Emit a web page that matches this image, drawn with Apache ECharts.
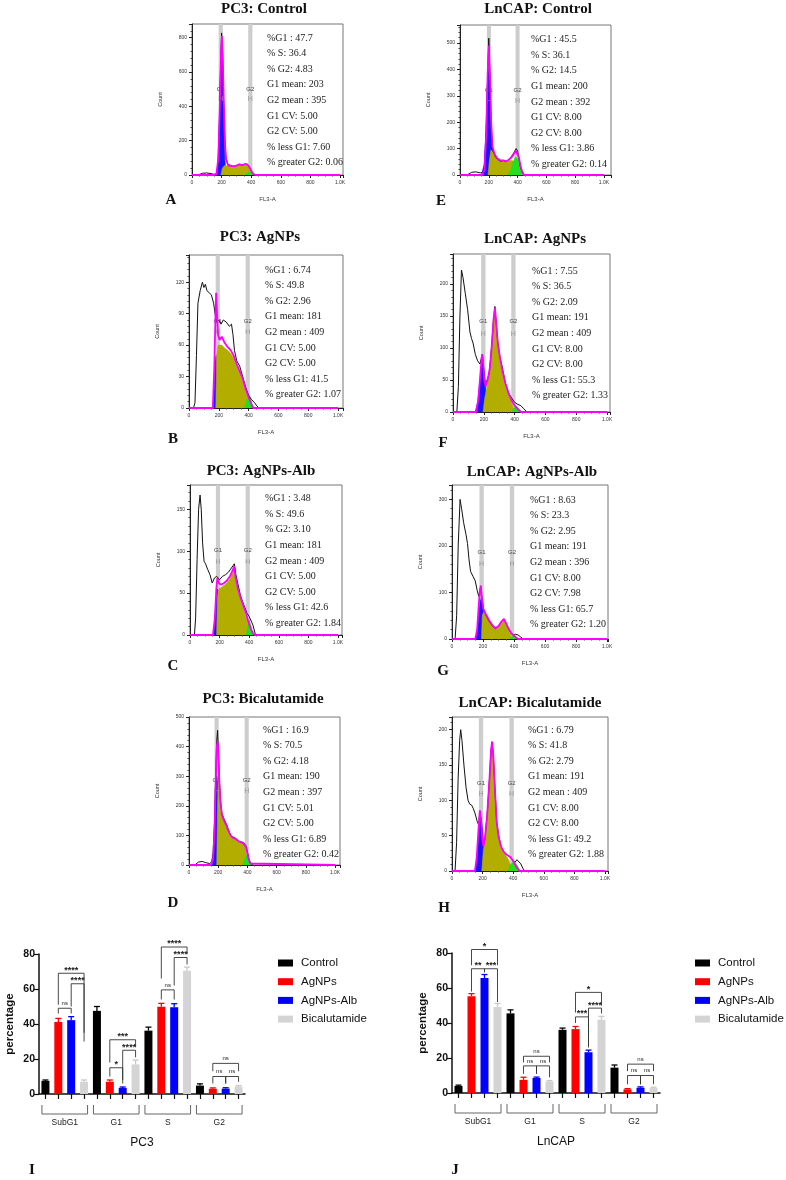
<!DOCTYPE html>
<html>
<head>
<meta charset="utf-8">
<script src="https://cdn.jsdelivr.net/npm/echarts@6/dist/echarts.min.js"></script>
<style>
html, body { margin: 0; padding: 0; background: #fff; }
#chart { width: 786px; height: 1180px; }
</style>
</head>
<body>
<div id="chart"></div>
<script>
// ---- flow histograms: [FL3-A, count] ----
// A  PC3 control
const aTotal = [[0,0],[40,0],[55,5],[70,10],[100,12],[130,8],[150,4],[165,8],[175,60],[185,300],[192,600],[200,828],[207,700],[213,450],[220,250],[228,110],[240,65],[260,55],[280,50],[300,55],[320,62],[340,58],[360,65],[375,62],[385,50],[395,35],[405,15],[415,3],[430,0]]
const aFit = [[0,0],[150,0],[165,5],[178,100],[188,400],[196,700],[202,810],[208,680],[215,420],[222,200],[230,90],[245,55],[260,54],[280,50],[300,55],[320,62],[340,58],[360,64],[375,60],[388,45],[400,25],[415,5],[430,0],[1000,0]]
const aG1 = [[170,0],[180,110],[190,480],[200,780],[210,480],[220,110],[230,0]]
const aS = [[195,0],[205,40],[220,55],[250,52],[280,50],[300,55],[320,62],[340,58],[360,62],[380,50],[395,25],[405,0]]
const aG2 = [[355,0],[375,10],[390,22],[400,25],[410,15],[420,3],[430,0]]
const aGates = [194, 394]
const aStats = ['%G1 : 47.7', '% S: 36.4', '% G2: 4.83', 'G1 mean: 203', 'G2 mean : 395', 'G1 CV: 5.00', 'G2 CV: 5.00', '% less G1: 7.60', '% greater G2: 0.06']

// E  LnCAP control
const eTotal = [[0,0],[50,0],[60,5],[80,10],[110,12],[140,8],[160,10],[170,30],[180,120],[190,330],[200,518],[206,400],[212,250],[220,130],[230,90],[245,70],[260,60],[280,52],[300,55],[320,50],[340,60],[360,72],[375,85],[390,100],[400,90],[410,60],[420,30],[432,10],[445,0]]
const eFit = [[0,0],[155,0],[170,20],[182,150],[192,380],[200,490],[208,380],[215,220],[225,110],[240,80],[260,62],[280,55],[300,55],[320,52],[340,58],[360,68],[375,80],[388,92],[398,90],[410,65],[420,35],[432,12],[445,0],[1000,0]]
const eG1 = [[150,0],[168,40],[180,160],[190,330],[200,440],[210,330],[220,160],[232,40],[250,0]]
const eS = [[195,0],[205,60],[215,95],[230,85],[250,65],[270,55],[300,52],[320,50],[340,55],[360,55],[380,50],[395,35],[405,15],[415,0]]
const eG2 = [[330,0],[350,15],[370,50],[385,70],[395,75],[410,55],[425,25],[440,5],[450,0]]
const eGates = [201, 400]
const eStats = ['%G1 : 45.5', '% S: 36.1', '% G2: 14.5', 'G1 mean: 200', 'G2 mean : 392', 'G1 CV: 8.00', 'G2 CV: 8.00', '% less G1: 3.86', '% greater G2: 0.14']

// B  PC3 AgNPs
const bTotal = [[0,0],[30,0],[40,5],[50,50],[60,100],[75,112],[90,120],[100,115],[110,118],[120,112],[135,110],[150,108],[165,100],[175,90],[185,82],[200,84],[215,80],[230,84],[250,82],[270,78],[285,80],[295,70],[305,55],[320,45],[340,40],[360,30],[380,20],[400,12],[420,8],[440,5],[455,2],[470,0]]
const bFit = [[0,0],[160,0],[170,40],[178,90],[182,110],[188,90],[195,70],[205,65],[220,68],[240,62],[260,58],[280,55],[300,50],[320,42],[340,35],[360,28],[380,18],[400,10],[415,5],[430,0],[1000,0]]
const bG1 = [[160,0],[170,20],[178,45],[182,50],[188,40],[195,15],[205,0]]
const bS = [[180,0],[185,50],[195,60],[220,60],[240,57],[260,55],[280,52],[300,48],[320,40],[340,33],[360,25],[380,15],[395,8],[405,0]]
const bG2 = [[370,0],[390,8],[405,12],[415,8],[425,3],[435,0]]
const bGates = [193, 394]
const bStats = ['%G1 : 6.74', '% S: 49.8', '% G2: 2.96', 'G1 mean: 181', 'G2 mean : 409', 'G1 CV: 5.00', 'G2 CV: 5.00', '% less G1: 41.5', '% greater G2: 1.07']

// F  LnCAP AgNPs
const fTotal = [[0,0],[25,0],[35,40],[45,150],[55,222],[65,210],[80,185],[95,160],[110,125],[120,115],[130,108],[145,90],[160,80],[175,75],[185,85],[192,90],[200,65],[210,42],[220,45],[235,60],[250,100],[262,140],[272,165],[280,140],[290,110],[305,85],[320,70],[340,45],[360,30],[380,22],[400,15],[420,12],[440,10],[460,5],[480,0]]
const fFit = [[0,0],[150,0],[165,20],[178,60],[188,90],[195,80],[203,50],[212,40],[225,50],[240,70],[252,105],[263,145],[272,163],[282,135],[292,105],[305,85],[320,65],[340,45],[360,30],[380,18],[400,10],[420,5],[440,0],[1000,0]]
const fG1 = [[145,0],[160,15],[175,50],[185,75],[191,80],[200,65],[210,40],[225,10],[240,0]]
const fS = [[195,0],[205,20],[220,40],[240,65],[252,100],[263,140],[272,158],[282,130],[292,100],[305,80],[320,60],[340,42],[360,28],[375,18],[390,8],[400,0]]
const fG2 = [[380,0],[395,6],[410,9],[425,6],[440,2],[450,0]]
const fGates = [197, 392]
const fStats = ['%G1 : 7.55', '% S: 36.5', '% G2: 2.09', 'G1 mean: 191', 'G2 mean : 409', 'G1 CV: 8.00', 'G2 CV: 8.00', '% less G1: 55.3', '% greater G2: 1.33']

// C  PC3 AgNPs-Alb
const cTotal = [[0,0],[30,0],[38,20],[48,90],[58,150],[68,167],[76,150],[85,110],[95,88],[105,85],[120,78],[135,72],[150,62],[165,68],[180,70],[200,66],[220,70],[240,72],[260,75],[280,80],[300,85],[310,72],[325,60],[340,48],[355,40],[370,33],[385,26],[400,22],[412,22],[425,12],[440,2],[450,0]]
const cFit = [[0,0],[155,0],[168,20],[178,55],[185,68],[195,62],[210,60],[230,62],[250,65],[270,70],[290,78],[298,82],[305,72],[320,58],[340,45],[360,35],[380,25],[395,15],[410,8],[425,2],[440,0],[1000,0]]
const cG1 = [[160,0],[170,25],[180,50],[185,55],[192,40],[200,15],[210,0]]
const cS = [[180,0],[185,45],[195,55],[220,58],[250,62],[270,67],[290,75],[298,78],[305,68],[320,55],[340,42],[360,32],[380,20],[395,8],[405,0]]
const cG2 = [[380,0],[392,12],[400,18],[410,12],[420,4],[430,0]]
const cGates = [189, 390]
const cStats = ['%G1 : 3.48', '% S: 49.6', '% G2: 3.10', 'G1 mean: 181', 'G2 mean : 409', 'G1 CV: 5.00', 'G2 CV: 5.00', '% less G1: 42.6', '% greater G2: 1.84']

// G  LnCAP AgNPs-Alb
const gTotal = [[0,0],[20,0],[30,50],[40,200],[52,300],[62,280],[75,250],[90,225],[100,205],[110,170],[120,145],[135,135],[150,125],[162,105],[172,92],[180,105],[186,112],[195,80],[205,62],[220,50],[240,38],[260,28],[280,22],[300,28],[320,38],[335,42],[350,32],[365,22],[380,12],[395,8],[410,10],[425,9],[440,5],[455,1],[465,0]]
const gFit = [[0,0],[150,0],[162,20],[172,70],[180,105],[186,115],[193,85],[202,65],[220,52],[240,40],[260,30],[280,23],[300,28],[320,38],[335,43],[350,33],[365,22],[380,14],[395,8],[410,4],[425,0],[1000,0]]
const gG1 = [[150,0],[162,15],[172,50],[182,80],[191,90],[200,70],[210,40],[225,10],[240,0]]
const gS = [[190,0],[195,50],[205,60],[220,50],[240,38],[260,28],[280,21],[300,26],[320,36],[335,40],[350,30],[365,18],[380,8],[390,0]]
const gG2 = [[370,0],[385,5],[398,8],[410,6],[425,2],[435,0]]
const gGates = [191, 387]
const gStats = ['%G1 : 8.63', '% S: 23.3', '% G2: 2.95', 'G1 mean: 191', 'G2 mean : 396', 'G1 CV: 8.00', 'G2 CV: 7.98', '% less G1: 65.7', '% greater G2: 1.20']

// D  PC3 Bicalutamide
const dTotal = [[0,0],[40,0],[50,5],[65,10],[90,12],[115,8],[140,5],[155,10],[165,40],[175,150],[183,300],[190,420],[196,455],[202,380],[208,290],[215,220],[225,175],[240,155],[255,140],[270,120],[285,100],[300,95],[320,90],[340,80],[360,78],[375,75],[390,65],[400,45],[410,20],[420,8],[435,0]]
const dFit = [[0,0],[150,0],[165,20],[175,120],[183,280],[190,400],[196,418],[202,370],[208,280],[215,215],[225,170],[240,150],[255,135],[270,115],[285,100],[300,92],[320,88],[340,80],[360,76],[375,72],[390,60],[400,40],[410,18],[420,5],[430,0],[1000,0]]
const dG1 = [[160,0],[170,40],[180,180],[190,300],[200,250],[210,100],[220,20],[230,0]]
const dS = [[190,0],[195,200],[202,310],[210,250],[220,170],[240,148],[255,133],[270,113],[285,97],[300,90],[320,86],[340,78],[360,74],[375,70],[385,55],[395,30],[405,0]]
const dG2 = [[370,0],[385,25],[397,35],[408,25],[420,8],[430,0]]
const dGates = [189, 395]
const dStats = ['%G1 : 16.9', '% S: 70.5', '% G2: 4.18', 'G1 mean: 190', 'G2 mean : 397', 'G1 CV: 5.01', 'G2 CV: 5.00', '% less G1: 6.89', '% greater G2: 0.42']

// H  LnCAP Bicalutamide
const hTotal = [[0,0],[20,0],[30,40],[40,130],[50,185],[57,200],[65,185],[78,150],[92,118],[105,100],[115,95],[129,93],[140,88],[150,82],[165,70],[175,65],[182,85],[190,72],[198,45],[205,35],[215,45],[230,80],[245,130],[255,170],[262,183],[270,165],[280,120],[292,70],[305,50],[320,35],[336,28],[350,25],[365,22],[380,20],[395,16],[410,12],[425,16],[435,17],[450,10],[465,3],[477,0]]
const hFit = [[0,0],[150,0],[162,20],[172,55],[182,86],[190,72],[198,45],[205,35],[215,45],[230,80],[245,130],[255,170],[262,183],[270,165],[280,120],[292,70],[305,48],[320,35],[336,28],[350,24],[365,22],[380,20],[395,16],[410,10],[425,5],[440,0],[1000,0]]
const hG1 = [[150,0],[162,15],[172,45],[182,70],[191,75],[200,55],[210,30],[225,8],[240,0]]
const hS = [[195,0],[205,30],[215,42],[230,75],[245,125],[255,165],[262,178],[270,160],[280,115],[292,65],[305,45],[320,32],[336,26],[350,22],[365,18],[380,10],[390,0]]
const hG2 = [[365,0],[380,8],[395,12],[410,13],[425,8],[440,2],[450,0]]
const hGates = [190, 390]
const hStats = ['%G1 : 6.79', '% S: 41.8', '% G2: 2.79', 'G1 mean: 191', 'G2 mean : 409', 'G1 CV: 8.00', 'G2 CV: 8.00', '% less G1: 49.2', '% greater G2: 1.88']

// ---- bar charts (percentage per phase) ----
const phases = ['SubG1', 'G1', 'S', 'G2']
const treatments = ['Control', 'AgNPs', 'AgNPs-Alb', 'Bicalutamide']
const treatmentColors = ['#000000', '#ff0000', '#0000ff', '#d4d4d4']

const pc3Control = [7.5, 47.5, 36.2, 4.8]
const pc3AgNPs = [41.2, 7.0, 49.8, 3.0]
const pc3AgNPsAlb = [42.2, 3.5, 49.6, 3.1]
const pc3Bicalutamide = [7.0, 16.9, 70.5, 4.2]
const pc3ControlErr = [0.5, 2.5, 2.0, 1.0]
const pc3AgNPsErr = [2.0, 1.0, 2.0, 0.5]
const pc3AgNPsAlbErr = [2.0, 0.5, 2.0, 0.5]
const pc3BicalutamideErr = [1.0, 2.5, 2.0, 0.6]

const lncapControl = [4.0, 45.5, 36.1, 14.5]
const lncapAgNPs = [55.3, 7.5, 36.5, 2.1]
const lncapAgNPsAlb = [65.7, 8.6, 23.3, 3.0]
const lncapBicalutamide = [49.2, 6.6, 41.8, 2.8]
const lncapControlErr = [0.5, 2.0, 1.0, 1.5]
const lncapAgNPsErr = [1.5, 1.5, 1.5, 0.4]
const lncapAgNPsAlbErr = [2.0, 0.5, 1.2, 0.5]
const lncapBicalutamideErr = [2.0, 0.5, 2.0, 0.5]

// significance brackets: [fromBar, toBar, top, left leg end, right leg end]
const pc3Brackets = [[1,2,49,46,46],[2,3,63,50,35],[1,3,69,51,30],[5,6,15,10,6],[6,7,25,8,21],[5,7,31,18,27],[9,10,59.5,54,54],[10,11,78,62,74],[9,11,84,66,80],[13,14,10,6,6],[14,15,10,6,7],[13,15,17.5,13,13]]
const pc3Marks = ['ns','****','****','*','****','***','ns','****','****','ns','ns','ns']
const lncapBrackets = [[1,2,71,58,69],[2,3,71,69,52],[1,3,82,73,73],[5,6,15.5,11,11],[6,7,15.5,11,9],[5,7,21,17.5,17.5],[9,10,43.5,40,26],[10,11,48.5,27,45.5],[9,11,57.5,46,50],[13,14,10,5,5],[14,15,10,5,5],[13,15,16.5,12.5,12.5]]
const lncapMarks = ['**','***','*','ns','ns','ns','***','****','*','ns','ns','ns']

const SERIF = '"Liberation Serif", "Times New Roman", serif'
const SANS = '"Liberation Sans", Arial, sans-serif'

const panels = [
  { title: 'PC3: Control', letter: 'A', total: aTotal, fit: aFit, g1: aG1, s: aS, g2: aG2, gates: aGates, stats: aStats,
    box: [192, 24, 151, 151], xMax: 1020, yMax: 880, yStep: 200, gateY: [500, 440], titleAt: [264, 9], statsAt: [267, 38], letterAt: [171, 200] },
  { title: 'LnCAP: Control', letter: 'E', total: eTotal, fit: eFit, g1: eG1, s: eS, g2: eG2, gates: eGates, stats: eStats,
    box: [460, 25, 151, 150], xMax: 1049, yMax: 568, yStep: 100, gateY: [322, 280], titleAt: [538, 9], statsAt: [531, 39.5], letterAt: [441, 201] },
  { title: 'PC3: AgNPs', letter: 'B', total: bTotal, fit: bFit, g1: bG1, s: bS, g2: bG2, gates: bGates, stats: bStats,
    box: [189, 255, 154, 153], xMax: 1033, yMax: 146, yStep: 30, gateY: [83, 72], titleAt: [260, 237], statsAt: [265, 270], letterAt: [173, 439] },
  { title: 'LnCAP: AgNPs', letter: 'F', total: fTotal, fit: fFit, g1: fG1, s: fS, g2: fG2, gates: fGates, stats: fStats,
    box: [453, 254, 157, 158], xMax: 1019, yMax: 247, yStep: 50, gateY: [141, 122], titleAt: [535, 239], statsAt: [532, 271], letterAt: [443, 443] },
  { title: 'PC3: AgNPs-Alb', letter: 'C', total: cTotal, fit: cFit, g1: cG1, s: cS, g2: cG2, gates: cGates, stats: cStats,
    box: [190, 485, 152, 150], xMax: 1027, yMax: 179, yStep: 50, gateY: [101, 87], titleAt: [261, 471], statsAt: [265, 498.5], letterAt: [173, 666] },
  { title: 'LnCAP: AgNPs-Alb', letter: 'G', total: gTotal, fit: gFit, g1: gG1, s: gS, g2: gG2, gates: gGates, stats: gStats,
    box: [452, 485, 156, 154], xMax: 1006, yMax: 331, yStep: 100, gateY: [186, 161], titleAt: [532, 472], statsAt: [530, 500], letterAt: [443, 671] },
  { title: 'PC3: Bicalutamide', letter: 'D', total: dTotal, fit: dFit, g1: dG1, s: dS, g2: dG2, gates: dGates, stats: dStats,
    box: [189, 717, 151, 148], xMax: 1034, yMax: 500, yStep: 100, gateY: [286, 250], titleAt: [263, 699], statsAt: [263, 730], letterAt: [173, 903] },
  { title: 'LnCAP: Bicalutamide', letter: 'H', total: hTotal, fit: hFit, g1: hG1, s: hS, g2: hG2, gates: hGates, stats: hStats,
    box: [452, 717, 156, 154], xMax: 1020, yMax: 218, yStep: 50, gateY: [124, 109], titleAt: [530, 703], statsAt: [528, 730], letterAt: [444, 908] }
]

const barCharts = [
  { name: 'PC3', letter: 'I', values: [pc3Control, pc3AgNPs, pc3AgNPsAlb, pc3Bicalutamide],
    errors: [pc3ControlErr, pc3AgNPsErr, pc3AgNPsAlbErr, pc3BicalutamideErr],
    brackets: pc3Brackets, marks: pc3Marks, box: [39, 954, 206, 140], legendAt: [278, 957], letterAt: [32, 1170] },
  { name: 'LnCAP', letter: 'J', values: [lncapControl, lncapAgNPs, lncapAgNPsAlb, lncapBicalutamide],
    errors: [lncapControlErr, lncapAgNPsErr, lncapAgNPsAlbErr, lncapBicalutamideErr],
    brackets: lncapBrackets, marks: lncapMarks, box: [452, 953, 208, 140], legendAt: [695, 957], letterAt: [455, 1170] }
]

const slots = []
phases.forEach(p => treatments.forEach(t => slots.push(p + ' ' + t)))

const grids = []
const xAxes = []
const yAxes = []
const series = []
const graphics = []

panels.forEach((p, i) => {
  grids.push({ left: p.box[0], top: p.box[1], width: p.box[2], height: p.box[3], show: true,
    borderColor: '#777', borderWidth: 1, outerBoundsMode: 'none' })
  xAxes.push({
    gridIndex: i, type: 'value', min: 0, max: p.xMax, interval: 200,
    name: 'FL3-A', nameLocation: 'middle', nameGap: 21,
    nameTextStyle: { fontFamily: SANS, fontSize: 6, color: '#333' },
    axisLine: { lineStyle: { color: '#222', width: 1 } },
    axisTick: { length: 3, lineStyle: { color: '#222' } },
    minorTick: { show: true, splitNumber: 4, length: 1.5, lineStyle: { color: '#444' } },
    axisLabel: { fontFamily: SANS, fontSize: 5, color: '#333', margin: 5, showMaxLabel: false,
      formatter: v => v === 1000 ? '1.0K' : String(v) },
    splitLine: { show: false }
  })
  yAxes.push({
    gridIndex: i, type: 'value', min: 0, max: p.yMax, interval: p.yStep,
    name: 'Count', nameLocation: 'middle', nameGap: 29,
    nameTextStyle: { fontFamily: SANS, fontSize: 5.5, color: '#333' },
    axisLine: { show: true, lineStyle: { color: '#222', width: 1 } },
    axisTick: { show: true, length: 3, lineStyle: { color: '#222' } },
    minorTick: { show: true, splitNumber: 5, length: 1.5, lineStyle: { color: '#444' } },
    axisLabel: { fontFamily: SANS, fontSize: 5, color: '#333', margin: 5, showMaxLabel: p.yMax % p.yStep === 0 },
    splitLine: { show: false }
  })
  const base = { type: 'line', xAxisIndex: i, yAxisIndex: i, symbol: 'none', animation: false, silent: true }
  series.push(Object.assign({}, base, {
    data: p.g1, z: 2,
    lineStyle: { width: 0.8, color: '#1515ff' }, areaStyle: { color: '#1515ff', opacity: 1 },
    markArea: { silent: true, z: 1, itemStyle: { color: '#cdcdcd' },
      data: p.gates.map(g => [{ xAxis: g - 14 }, { xAxis: g + 14 }]) },
    markPoint: { silent: true, symbol: 'rect', symbolSize: 1, itemStyle: { color: 'rgba(0,0,0,0)' },
      data: [
        { name: 'G1', coord: [p.gates[0], p.gateY[0]], label: { show: true, position: 'inside', formatter: '{b}', fontFamily: SANS, fontSize: 6, color: '#444' } },
        { name: 'G2', coord: [p.gates[1], p.gateY[0]], label: { show: true, position: 'inside', formatter: '{b}', fontFamily: SANS, fontSize: 6, color: '#444' } },
        { name: 'H', coord: [p.gates[0], p.gateY[1]], label: { show: true, position: 'inside', formatter: '{b}', fontFamily: SANS, fontSize: 7, color: '#9a9a9a' } },
        { name: 'H', coord: [p.gates[1], p.gateY[1]], label: { show: true, position: 'inside', formatter: '{b}', fontFamily: SANS, fontSize: 7, color: '#9a9a9a' } }
      ] }
  }))
  series.push(Object.assign({}, base, { data: p.s, z: 3,
    lineStyle: { width: 0.6, color: '#b3ad00' }, areaStyle: { color: '#b3ad00', opacity: 1 } }))
  series.push(Object.assign({}, base, { data: p.g2, z: 4,
    lineStyle: { width: 0.6, color: '#20e020' }, areaStyle: { color: '#20e020', opacity: 1 } }))
  series.push(Object.assign({}, base, { data: p.total, z: 5,
    lineStyle: { width: 1, color: '#111' } }))
  series.push(Object.assign({}, base, { data: p.fit, z: 6,
    lineStyle: { width: 1.8, color: '#ff00ff' } }))

  graphics.push({ type: 'text', x: p.titleAt[0], y: p.titleAt[1],
    style: { text: p.title, font: 'bold 15px ' + SERIF, fill: '#111', textAlign: 'center', textVerticalAlign: 'middle' } })
  graphics.push({ type: 'text', x: p.letterAt[0], y: p.letterAt[1],
    style: { text: p.letter, font: 'bold 15px ' + SERIF, fill: '#111', textAlign: 'center', textVerticalAlign: 'middle' } })
  p.stats.forEach((line, k) => {
    graphics.push({ type: 'text', x: p.statsAt[0], y: p.statsAt[1] + k * 15.6,
      style: { text: line, font: '10px ' + SERIF, fill: '#222', textAlign: 'left', textVerticalAlign: 'middle' } })
  })
})

const legends = []
barCharts.forEach((b, j) => {
  const gi = panels.length + j
  grids.push({ left: b.box[0], top: b.box[1], width: b.box[2], height: b.box[3], outerBoundsMode: 'none' })
  xAxes.push({
    gridIndex: gi, type: 'category', data: slots,
    name: b.name, nameLocation: 'middle', nameGap: 43,
    nameTextStyle: { fontFamily: SANS, fontSize: 12, color: '#111' },
    axisLine: { lineStyle: { color: '#111', width: 1.5 } },
    axisTick: { show: true, alignWithLabel: true, interval: 0, length: 5, lineStyle: { color: '#111', width: 1.2 } },
    axisLabel: { show: false, interval: 0 },
    splitLine: { show: false }
  })
  yAxes.push({
    gridIndex: gi, type: 'value', min: 0, max: 80, interval: 20,
    name: 'percentage', nameLocation: 'middle', nameGap: 23,
    nameTextStyle: { fontFamily: SANS, fontSize: 11.5, fontWeight: 'bold', color: '#111' },
    axisLine: { show: true, lineStyle: { color: '#111', width: 1.5 } },
    axisTick: { show: true, length: 5, lineStyle: { color: '#111', width: 1.2 } },
    axisLabel: { fontFamily: SANS, fontSize: 10.5, fontWeight: 'bold', color: '#111', margin: 4 },
    splitLine: { show: false }
  })
  treatments.forEach((t, k) => {
    const data = slots.map(() => '-')
    b.values[k].forEach((v, p) => { data[p * 4 + k] = v })
    series.push({ type: 'bar', name: t, xAxisIndex: gi, yAxisIndex: gi, data: data,
      barWidth: 8, barGap: '-100%', itemStyle: { color: treatmentColors[k] }, animation: false, z: 2 })
    const errData = b.values[k].map((v, p) => [p * 4 + k, v, b.errors[k][p]])
    const errColor = k === 3 ? '#c8c8c8' : treatmentColors[k]
    series.push({ type: 'custom', xAxisIndex: gi, yAxisIndex: gi, data: errData, silent: true, animation: false, z: 3,
      encode: { x: 0, y: 1 },
      renderItem: (params, api) => {
        const x = api.value(0), v = api.value(1), e = api.value(2)
        const p0 = api.coord([x, v]), p1 = api.coord([x, v + e])
        const st = { stroke: errColor, lineWidth: 1.3 }
        return { type: 'group', children: [
          { type: 'line', shape: { x1: p0[0], y1: p0[1], x2: p1[0], y2: p1[1] }, style: st },
          { type: 'line', shape: { x1: p1[0] - 3, y1: p1[1], x2: p1[0] + 3, y2: p1[1] }, style: st }
        ] }
      } })
  })
  // significance brackets
  series.push({ type: 'custom', xAxisIndex: gi, yAxisIndex: gi, data: b.brackets, clip: false, silent: true, animation: false, z: 4,
    encode: { x: [0, 1], y: [2, 3, 4] },
    renderItem: (params, api) => {
      const a = api.value(0), c = api.value(1), top = api.value(2)
      const pa = api.coord([a, top]), pc = api.coord([c, top])
      const la = api.coord([a, api.value(3)]), lc = api.coord([c, api.value(4)])
      const mark = b.marks[params.dataIndex]
      const isNs = mark === 'ns'
      return { type: 'group', children: [
        { type: 'polyline', shape: { points: [la, pa, pc, lc] }, style: { stroke: '#333', lineWidth: 0.9, fill: null } },
        { type: 'text', x: (pa[0] + pc[0]) / 2, y: pa[1] - (isNs ? 5 : 3),
          style: { text: mark, font: (isNs ? '6px ' : 'bold 9px ') + SANS, fill: '#222', textAlign: 'center', textVerticalAlign: 'middle' } }
      ] }
    } })
  // phase group brackets below the axis
  series.push({ type: 'custom', xAxisIndex: gi, yAxisIndex: gi, data: phases.map((p, i) => [i * 4, i * 4 + 3]),
    clip: false, silent: true, animation: false, encode: { x: [0, 1] },
    renderItem: (params, api) => {
      const c0 = api.coord([api.value(0), 0]), c3 = api.coord([api.value(1), 0])
      const y = c0[1] + 20, l = c0[0] - 3.5, r = c3[0] + 3.5
      return { type: 'group', children: [
        { type: 'polyline', shape: { points: [[l, y - 9], [l, y], [r, y], [r, y - 9]] }, style: { stroke: '#666', lineWidth: 1, fill: null } },
        { type: 'text', x: (l + r) / 2, y: y + 9,
          style: { text: phases[params.dataIndex], font: '8.5px ' + SANS, fill: '#222', textAlign: 'center', textVerticalAlign: 'middle' } }
      ] }
    } })
  legends.push({ orient: 'vertical', left: b.legendAt[0], top: b.legendAt[1], padding: 0,
    itemWidth: 15, itemHeight: 7, itemGap: 6.7, icon: 'rect', selectedMode: false,
    data: treatments, textStyle: { fontFamily: SANS, fontSize: 11.5, color: '#111', padding: [0, 0, 0, 3] } })
  graphics.push({ type: 'text', x: b.letterAt[0], y: b.letterAt[1],
    style: { text: b.letter, font: 'bold 15px ' + SERIF, fill: '#111', textAlign: 'center', textVerticalAlign: 'middle' } })
})

const chart = echarts.init(document.getElementById('chart'))
chart.setOption({
  animation: false,
  backgroundColor: '#fff',
  grid: grids,
  xAxis: xAxes,
  yAxis: yAxes,
  legend: legends,
  series: series,
  graphic: graphics
})
</script>
</body>
</html>
